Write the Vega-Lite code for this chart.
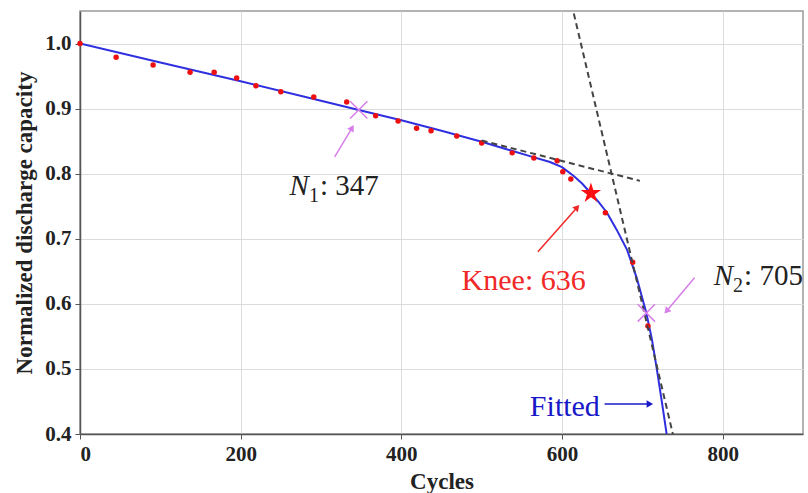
{
  "$schema": "https://vega.github.io/schema/vega-lite/v6.json",
  "autosize": {"type": "none"},
  "padding": {"left": 80, "top": 11, "right": 5, "bottom": 59},
  "width": 723,
  "height": 423,
  "background": "white",
  "config": {
    "view": {"stroke": "#9a9a9a", "strokeWidth": 1.5},
    "font": "Liberation Serif",
    "axis": {
      "labelFont": "Liberation Serif",
      "labelFontWeight": "bold",
      "labelFontSize": 21,
      "labelColor": "#222",
      "titleFont": "Liberation Serif",
      "titleFontWeight": "bold",
      "titleFontSize": 23,
      "titleColor": "#222",
      "gridColor": "#dcdcdc",
      "gridWidth": 1,
      "domainColor": "#555",
      "domainWidth": 1.5,
      "tickColor": "#555",
      "tickSize": 5,
      "labelPadding": 4
    }
  },
  "datasets": {
    "points": [
      {"cycle": 0, "capacity": 1.0},
      {"cycle": 45, "capacity": 0.979},
      {"cycle": 91, "capacity": 0.967},
      {"cycle": 137, "capacity": 0.956},
      {"cycle": 167, "capacity": 0.956},
      {"cycle": 195, "capacity": 0.947},
      {"cycle": 219, "capacity": 0.935},
      {"cycle": 250, "capacity": 0.926},
      {"cycle": 291, "capacity": 0.918},
      {"cycle": 332, "capacity": 0.91},
      {"cycle": 368, "capacity": 0.889},
      {"cycle": 396, "capacity": 0.881},
      {"cycle": 419, "capacity": 0.87},
      {"cycle": 437, "capacity": 0.866},
      {"cycle": 469, "capacity": 0.858},
      {"cycle": 500, "capacity": 0.847},
      {"cycle": 538, "capacity": 0.832},
      {"cycle": 565, "capacity": 0.824},
      {"cycle": 594, "capacity": 0.82},
      {"cycle": 601, "capacity": 0.803},
      {"cycle": 611, "capacity": 0.792},
      {"cycle": 654, "capacity": 0.74},
      {"cycle": 688, "capacity": 0.664},
      {"cycle": 707, "capacity": 0.566}
    ],
    "fitted": [
      {"cycle": 0, "capacity": 1.0},
      {"cycle": 100, "capacity": 0.971},
      {"cycle": 200, "capacity": 0.942},
      {"cycle": 300, "capacity": 0.912},
      {"cycle": 347, "capacity": 0.898},
      {"cycle": 400, "capacity": 0.882},
      {"cycle": 450, "capacity": 0.866},
      {"cycle": 500, "capacity": 0.849},
      {"cycle": 530, "capacity": 0.838},
      {"cycle": 560, "capacity": 0.827},
      {"cycle": 585, "capacity": 0.818},
      {"cycle": 600, "capacity": 0.81},
      {"cycle": 615, "capacity": 0.796},
      {"cycle": 625, "capacity": 0.785},
      {"cycle": 636, "capacity": 0.77},
      {"cycle": 646, "capacity": 0.756},
      {"cycle": 656, "capacity": 0.74},
      {"cycle": 668, "capacity": 0.714},
      {"cycle": 681, "capacity": 0.683},
      {"cycle": 693, "capacity": 0.64},
      {"cycle": 705, "capacity": 0.586},
      {"cycle": 712, "capacity": 0.545},
      {"cycle": 718, "capacity": 0.5},
      {"cycle": 724, "capacity": 0.452},
      {"cycle": 730, "capacity": 0.402},
      {"cycle": 732, "capacity": 0.385}
    ],
    "tangents": [
      {"seg": "pre-knee", "cycle": 500, "capacity": 0.851},
      {"seg": "pre-knee", "cycle": 697, "capacity": 0.789},
      {"seg": "post-knee", "cycle": 609, "capacity": 1.076},
      {"seg": "post-knee", "cycle": 742, "capacity": 0.379}
    ],
    "markers": [
      {"kind": "N1", "cycle": 347, "capacity": 0.898},
      {"kind": "N2", "cycle": 705, "capacity": 0.586},
      {"kind": "Knee", "cycle": 636, "capacity": 0.77}
    ],
    "arrows": [
      {"name": "N1", "cycle": 317, "capacity": 0.826, "cycle_end": 338, "capacity_end": 0.869},
      {"name": "Knee", "cycle": 570, "capacity": 0.68, "cycle_end": 618, "capacity_end": 0.747},
      {"name": "N2", "cycle": 765, "capacity": 0.64, "cycle_end": 731, "capacity_end": 0.59},
      {"name": "Fitted", "cycle": 653, "capacity": 0.446, "cycle_end": 708, "capacity_end": 0.446}
    ],
    "labels": [
      {"name": "N1", "cycle": 285, "capacity": 0.767, "sub": "1", "rest": ": 347"},
      {"name": "N2", "cycle": 813, "capacity": 0.629, "sub": "2", "rest": ": 705"}
    ],
    "plain": [
      {"name": "Knee", "text": "Knee: 636", "cycle": 475, "capacity": 0.621},
      {"name": "Fitted", "text": "Fitted", "cycle": 560, "capacity": 0.428}
    ]
  },
  "layer": [
    {
      "data": {"name": "fitted"},
      "mark": {"type": "line", "color": "#2f2fe0", "strokeWidth": 2, "clip": true},
      "encoding": {
        "x": {"field": "cycle", "type": "quantitative", "title": "Cycles",
              "scale": {"domain": [0, 900], "nice": false, "zero": false},
              "axis": {"values": [0, 200, 400, 600, 800], "titlePadding": 6}},
        "y": {"field": "capacity", "type": "quantitative", "title": "Normalized discharge capacity",
              "scale": {"domain": [0.4, 1.05], "nice": false, "zero": false},
              "axis": {"values": [0.4, 0.5, 0.6, 0.7, 0.8, 0.9, 1.0], "format": ".1f", "titlePadding": 8}}
      }
    },
    {
      "data": {"name": "points"},
      "mark": {"type": "circle", "color": "#ee1010", "size": 30, "opacity": 1},
      "encoding": {
        "x": {"field": "cycle", "type": "quantitative"},
        "y": {"field": "capacity", "type": "quantitative"}
      }
    },
    {
      "data": {"name": "tangents"},
      "mark": {"type": "line", "color": "#444", "strokeWidth": 2, "strokeDash": [6, 4], "clip": true},
      "encoding": {
        "x": {"field": "cycle", "type": "quantitative"},
        "y": {"field": "capacity", "type": "quantitative"},
        "detail": {"field": "seg", "type": "nominal"}
      }
    },
    {
      "data": {"name": "markers"},
      "transform": [{"filter": "datum.kind !== 'Knee'"}],
      "mark": {"type": "point", "shape": "M-1,-1L1,1M-1,1L1,-1", "filled": false, "stroke": "#d77ee8", "strokeWidth": 1.5, "size": 300, "opacity": 1},
      "encoding": {
        "x": {"field": "cycle", "type": "quantitative"},
        "y": {"field": "capacity", "type": "quantitative"}
      }
    },
    {
      "data": {"name": "markers"},
      "transform": [{"filter": "datum.kind === 'Knee'"}],
      "mark": {"type": "point", "shape": "M0,-1L0.2245,-0.309L0.951,-0.309L0.363,0.118L0.588,0.809L0,0.382L-0.588,0.809L-0.363,0.118L-0.951,-0.309L-0.2245,-0.309Z", "filled": true, "color": "#ff1010", "size": 460, "opacity": 1},
      "encoding": {
        "x": {"field": "cycle", "type": "quantitative"},
        "y": {"field": "capacity", "type": "quantitative"}
      }
    },
    {
      "data": {"name": "arrows"},
      "mark": {"type": "rule", "strokeWidth": 1.5},
      "encoding": {
        "x": {"field": "cycle", "type": "quantitative"},
        "y": {"field": "capacity", "type": "quantitative"},
        "x2": {"field": "cycle_end"},
        "y2": {"field": "capacity_end"},
        "color": {"field": "name", "type": "nominal", "legend": null,
                  "scale": {"domain": ["N1", "N2", "Knee", "Fitted"], "range": ["#d77ee8", "#d77ee8", "#f02828", "#1818c8"]}}
      }
    },
    {
      "data": {"name": "arrows"},
      "transform": [{"filter": "datum.name === 'N1'"}],
      "mark": {"type": "point", "shape": "triangle", "filled": true, "color": "#d77ee8", "size": 55, "angle": 30, "opacity": 1},
      "encoding": {"x": {"field": "cycle_end", "type": "quantitative"}, "y": {"field": "capacity_end", "type": "quantitative"}}
    },
    {
      "data": {"name": "arrows"},
      "transform": [{"filter": "datum.name === 'Knee'"}],
      "mark": {"type": "point", "shape": "triangle", "filled": true, "color": "#f02828", "size": 55, "angle": 42, "opacity": 1},
      "encoding": {"x": {"field": "cycle_end", "type": "quantitative"}, "y": {"field": "capacity_end", "type": "quantitative"}}
    },
    {
      "data": {"name": "arrows"},
      "transform": [{"filter": "datum.name === 'N2'"}],
      "mark": {"type": "point", "shape": "triangle", "filled": true, "color": "#d77ee8", "size": 55, "angle": 221, "opacity": 1},
      "encoding": {"x": {"field": "cycle_end", "type": "quantitative"}, "y": {"field": "capacity_end", "type": "quantitative"}}
    },
    {
      "data": {"name": "arrows"},
      "transform": [{"filter": "datum.name === 'Fitted'"}],
      "mark": {"type": "point", "shape": "triangle", "filled": true, "color": "#1818c8", "size": 55, "angle": 90, "opacity": 1},
      "encoding": {"x": {"field": "cycle_end", "type": "quantitative"}, "y": {"field": "capacity_end", "type": "quantitative"}}
    },
    {
      "data": {"name": "plain"},
      "mark": {"type": "text", "align": "left", "baseline": "alphabetic", "fontSize": 30},
      "encoding": {
        "x": {"field": "cycle", "type": "quantitative"},
        "y": {"field": "capacity", "type": "quantitative"},
        "text": {"field": "text", "type": "nominal"},
        "color": {"field": "name", "type": "nominal", "legend": null}
      }
    },
    {
      "data": {"name": "labels"},
      "mark": {"type": "text", "align": "right", "baseline": "alphabetic", "fontSize": 29, "fontStyle": "italic", "color": "#222", "text": "N"},
      "encoding": {
        "x": {"field": "cycle", "type": "quantitative"},
        "y": {"field": "capacity", "type": "quantitative"}
      }
    },
    {
      "data": {"name": "labels"},
      "mark": {"type": "text", "align": "left", "baseline": "alphabetic", "fontSize": 20, "color": "#222", "dy": 7},
      "encoding": {
        "x": {"field": "cycle", "type": "quantitative"},
        "y": {"field": "capacity", "type": "quantitative"},
        "text": {"field": "sub", "type": "nominal"}
      }
    },
    {
      "data": {"name": "labels"},
      "mark": {"type": "text", "align": "left", "baseline": "alphabetic", "fontSize": 29, "color": "#222", "dx": 11},
      "encoding": {
        "x": {"field": "cycle", "type": "quantitative"},
        "y": {"field": "capacity", "type": "quantitative"},
        "text": {"field": "rest", "type": "nominal"}
      }
    }
  ]
}
